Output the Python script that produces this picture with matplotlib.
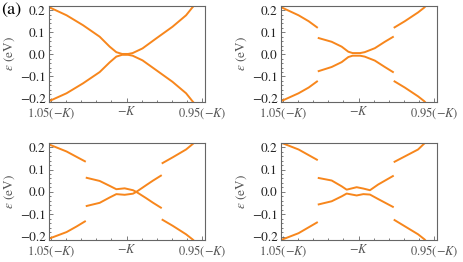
import matplotlib
matplotlib.use('Agg')
import matplotlib.pyplot as plt
from matplotlib.ticker import MultipleLocator, FixedLocator

plt.rcParams['font.family'] = 'STIXGeneral'
plt.rcParams['mathtext.fontset'] = 'stix'
plt.rcParams['axes.unicode_minus'] = True

ORANGE = '#f7861c'

# momentum in units of -K (left edge 1.05, right edge 0.95)
x_ticks = [1.05, 1.0, 0.95]
x_ticklabels = [r'$1.05(-K)$', r'$-K$', r'$0.95(-K)$']
y_ticks = [-0.2, -0.1, 0.0, 0.1, 0.2]

# panel (a) top-left: gapless bands touching at -K
k_a = [1.052, 1.0507, 1.0397, 1.0288, 1.0178, 1.0112, 1.0068, 1.003, 0.999,
       0.996, 0.9895, 0.9805, 0.9697, 0.9607, 0.9566, 0.953]
up_a = [0.214, 0.212, 0.177, 0.132, 0.080, 0.035, 0.010, 0.002, 0.002,
        0.006, 0.027, 0.072, 0.125, 0.177, 0.212, 0.240]
lo_a = [-0.212, -0.210, -0.176, -0.131, -0.080, -0.036, -0.010, -0.002, -0.002,
        -0.006, -0.027, -0.071, -0.124, -0.176, -0.211, -0.240]

# panel (b) top-right
k_b_left = [1.052, 1.0507, 1.0397, 1.033, 1.027]
up_b_left = [0.214, 0.212, 0.177, 0.150, 0.120]
lo_b_left = [-0.212, -0.210, -0.176, -0.150, -0.120]
k_b_mid = [1.027, 1.0178, 1.0112, 1.0068, 1.004, 0.999, 0.996, 0.9893, 0.9827, 0.9768]
up_b_mid = [0.075, 0.057, 0.035, 0.012, 0.006, 0.006, 0.010, 0.028, 0.057, 0.081]
lo_b_mid = [-0.077, -0.057, -0.035, -0.012, -0.006, -0.006, -0.010, -0.028, -0.057, -0.082]
k_b_right = [0.9768, 0.9695, 0.9607, 0.9566, 0.953]
up_b_right = [0.120, 0.150, 0.190, 0.212, 0.240]
lo_b_right = [-0.120, -0.150, -0.190, -0.212, -0.240]

# panel (c) bottom-left
k_c_left = [1.052, 1.0507, 1.0397, 1.0331, 1.027]
up_c_left = [0.213, 0.211, 0.181, 0.157, 0.135]
lo_c_left = [-0.210, -0.208, -0.180, -0.155, -0.130]
k_c_mid = [1.027, 1.0178, 1.0112, 1.0068, 1.0013, 0.9958, 0.9936, 0.9871, 0.9827, 0.9768]
c1_mid = [0.064, 0.049, 0.027, 0.012, 0.016, 0.0075, 0.0, -0.028, -0.048, -0.073]
c2_mid = [-0.064, -0.049, -0.025, -0.010, -0.013, -0.008, 0.0, 0.030, 0.050, 0.075]
k_c_right = [0.9768, 0.9695, 0.9607, 0.9564, 0.952]
up_c_right = [0.127, 0.155, 0.190, 0.214, 0.240]
lo_c_right = [-0.123, -0.152, -0.190, -0.213, -0.240]

# panel (d) bottom-right
k_d_left = [1.052, 1.0507, 1.0397, 1.027]
up_d_left = [0.221, 0.219, 0.190, 0.142]
lo_d_left = [-0.216, -0.214, -0.185, -0.135]
k_d_mid = [1.027, 1.0178, 1.0112, 1.0079, 1.0013, 0.9969, 0.9925, 0.9871, 0.9768]
up_d_mid = [0.063, 0.051, 0.025, 0.010, 0.021, 0.015, 0.0075, 0.033, 0.073]
lo_d_mid = [-0.057, -0.042, -0.020, -0.0075, -0.016, -0.010, -0.012, -0.032, -0.069]
k_d_right = [0.9768, 0.9607, 0.9564, 0.953]
up_d_right = [0.133, 0.190, 0.218, 0.240]
lo_d_right = [-0.124, -0.190, -0.213, -0.240]

panels = [
    [(k_a, up_a), (k_a, lo_a)],
    [(k_b_left, up_b_left), (k_b_left, lo_b_left), (k_b_mid, up_b_mid),
     (k_b_mid, lo_b_mid), (k_b_right, up_b_right), (k_b_right, lo_b_right)],
    [(k_c_left, up_c_left), (k_c_left, lo_c_left), (k_c_mid, c1_mid),
     (k_c_mid, c2_mid), (k_c_right, up_c_right), (k_c_right, lo_c_right)],
    [(k_d_left, up_d_left), (k_d_left, lo_d_left), (k_d_mid, up_d_mid),
     (k_d_mid, lo_d_mid), (k_d_right, up_d_right), (k_d_right, lo_d_right)],
]

W, H = 464, 262
fig = plt.figure(figsize=(W / 100, H / 100), dpi=100)

# axes boxes in pixels: (left, top, right, bottom)
boxes = [(49, 6, 205, 102), (281, 6, 437, 102),
         (49, 143, 205, 240), (281, 143, 437, 240)]

for box, segs in zip(boxes, panels):
    l, t, r, b = box
    ax = fig.add_axes([l / W, 1 - b / H, (r - l) / W, (b - t) / H])
    for k, e in segs:
        ax.plot(k, e, color=ORANGE, lw=1.4, solid_capstyle='butt')
    ax.set_xlim(1.0513, 0.9482)
    ax.set_ylim(-0.2155, 0.219)

    ax.xaxis.set_major_locator(FixedLocator(x_ticks))
    ax.set_xticklabels(x_ticklabels)
    ax.xaxis.set_minor_locator(MultipleLocator(0.01))
    ax.yaxis.set_major_locator(FixedLocator(y_ticks))
    ax.set_yticklabels(['%.1f' % v if v >= 0 else '\u2212%.1f' % -v for v in y_ticks])
    ax.yaxis.set_minor_locator(MultipleLocator(0.02))

    ax.tick_params(which='both', direction='in', top=False, right=False,
                   color='#666666', width=0.6)
    ax.tick_params(which='major', length=3)
    ax.tick_params(which='minor', length=1.5)
    ax.tick_params(axis='x', labelsize=9, labelcolor='#555555', pad=2.5)
    ax.tick_params(axis='y', labelsize=9.5, labelcolor='#222222', pad=2.5)
    for sp in ax.spines.values():
        sp.set_color('#666666')
        sp.set_linewidth(0.8)
    ax.set_ylabel(r'$\epsilon$ (eV)', fontsize=9.5, color='#555555', labelpad=2)

fig.text(1 / W, 1 - 2 / H, '(a)', fontsize=13, va='top', ha='left')

fig.savefig('out.png', dpi=100)
